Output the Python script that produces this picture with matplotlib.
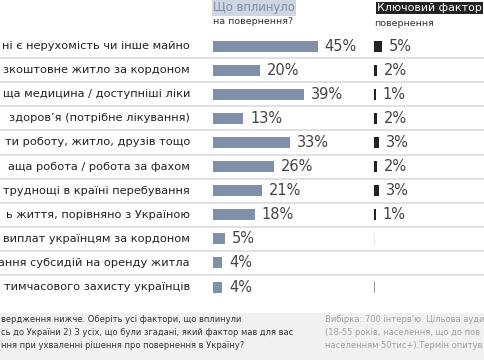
import numpy as np
from matplotlib import pyplot as plt
from matplotlib.patches import Rectangle

# data
labels = [
    "ні є нерухомість чи інше майно",
    "зкоштовне житло за кордоном",
    "ща медицина / доступніші ліки",
    "здоров’я (потрібне лікування)",
    "ти роботу, житло, друзів тощо",
    "аща робота / робота за фахом",
    "труднощі в країні перебування",
    "ь життя, порівняно з Україною",
    "виплат українцям за кордоном",
    "ання субсидій на оренду житла",
    "тимчасового захисту українців",
]
influenced = [45, 20, 39, 13, 33, 26, 21, 18, 5, 4, 4]
key_factor = [5, 2, 1, 2, 3, 2, 3, 1, 0, 0, 0]

W, H = 485, 360
fig = plt.figure(figsize=(4.85, 3.6), dpi=100)

def fx(px):
    return px / W

def fy(px):
    return 1 - px / H

# bottom grey panel with footnotes
fig.patches.append(Rectangle((0, 0), 1, fy(313), transform=fig.transFigure,
                             facecolor="#f1f1f1", edgecolor="none", zorder=0))
note_l = ["вердження нижче. Оберіть усі фактори, що вплинули",
          "сь до України 2) З усіх, що були згадані, який фактор мав для вас",
          "ння при ухваленні рішення про повернення в Україну?"]
note_r = ["Вибірка: 700 інтерв'ю. Цільова ауди",
          "(18-55 років, населення, що до пов",
          "населенням 50тис+).Термін опитув"]
for i, (a, b) in enumerate(zip(note_l, note_r)):
    y = fy(320 + i * 12.5)
    fig.text(fx(1), y, a, fontsize=6.0, color="#333333", va="center")
    fig.text(fx(325), y, b, fontsize=6.0, color="#a0a0a0", va="center")

rows = np.arange(len(labels))
row_top, row_h = 34, 24.1 * len(labels)
box = [0, fy(row_top + row_h), 1, row_h / H]

# base axes: separators and category labels
base = fig.add_axes(box)
base.set_xlim(0, 1)
base.set_ylim(len(labels) - 0.5, -0.5)
base.axis("off")
base.hlines(rows[:-1] + 0.5, 0, 1, color="#dcdcdc", lw=1.2)
for r, t in zip(rows, labels):
    base.text(fx(190), r, t, ha="right", va="center", fontsize=8.2, color="#222222")

# left bars: what influenced return
axl = fig.add_axes([fx(213), box[1], fx(233), box[3]])
axl.set_xlim(0, 100)
axl.set_ylim(len(labels) - 0.5, -0.5)
axl.axis("off")
axl.barh(rows, influenced, height=0.46, color="#8090a8")
for r, v in zip(rows, influenced):
    axl.annotate(f"{v}%", (v, r), xytext=(5, 0), textcoords="offset points",
                 va="center", fontsize=10.5, color="#444444")

# right bars: key factor
axr = fig.add_axes([fx(374), box[1], fx(111), box[3]])
axr.set_xlim(0, 111 / 1.6)
axr.set_ylim(len(labels) - 0.5, -0.5)
axr.axis("off")
axr.barh(rows, key_factor, height=0.46, color="#222222")
for r, v in zip(rows, key_factor):
    if v > 0:
        axr.annotate(f"{v}%", (v, r), xytext=(5, 0), textcoords="offset points",
                     va="center", fontsize=10.5, color="#444444")
axr.vlines(0.3, 8 - 0.25, 8 + 0.25, color="#e4e4e4", lw=1.2)
axr.vlines(0.3, 10 - 0.25, 10 + 0.25, color="#888888", lw=1.2)

# column headers
fig.text(fx(213), fy(8), "Що вплинуло", fontsize=8.4, color="#7d8fa8", va="center",
         bbox=dict(boxstyle="square,pad=0.12", fc="#cdd6e2", ec="none"))
fig.text(fx(213), fy(21), "на повернення?", fontsize=6.8, color="#333333", va="center")
fig.text(fx(377), fy(8), "Ключовий фактор", fontsize=7.9, color="white", va="center",
         bbox=dict(boxstyle="square,pad=0.12", fc="#222222", ec="none"))
fig.text(fx(374), fy(23), "повернення", fontsize=6.8, color="#333333", va="center")

fig.savefig("out.png", dpi=100)
